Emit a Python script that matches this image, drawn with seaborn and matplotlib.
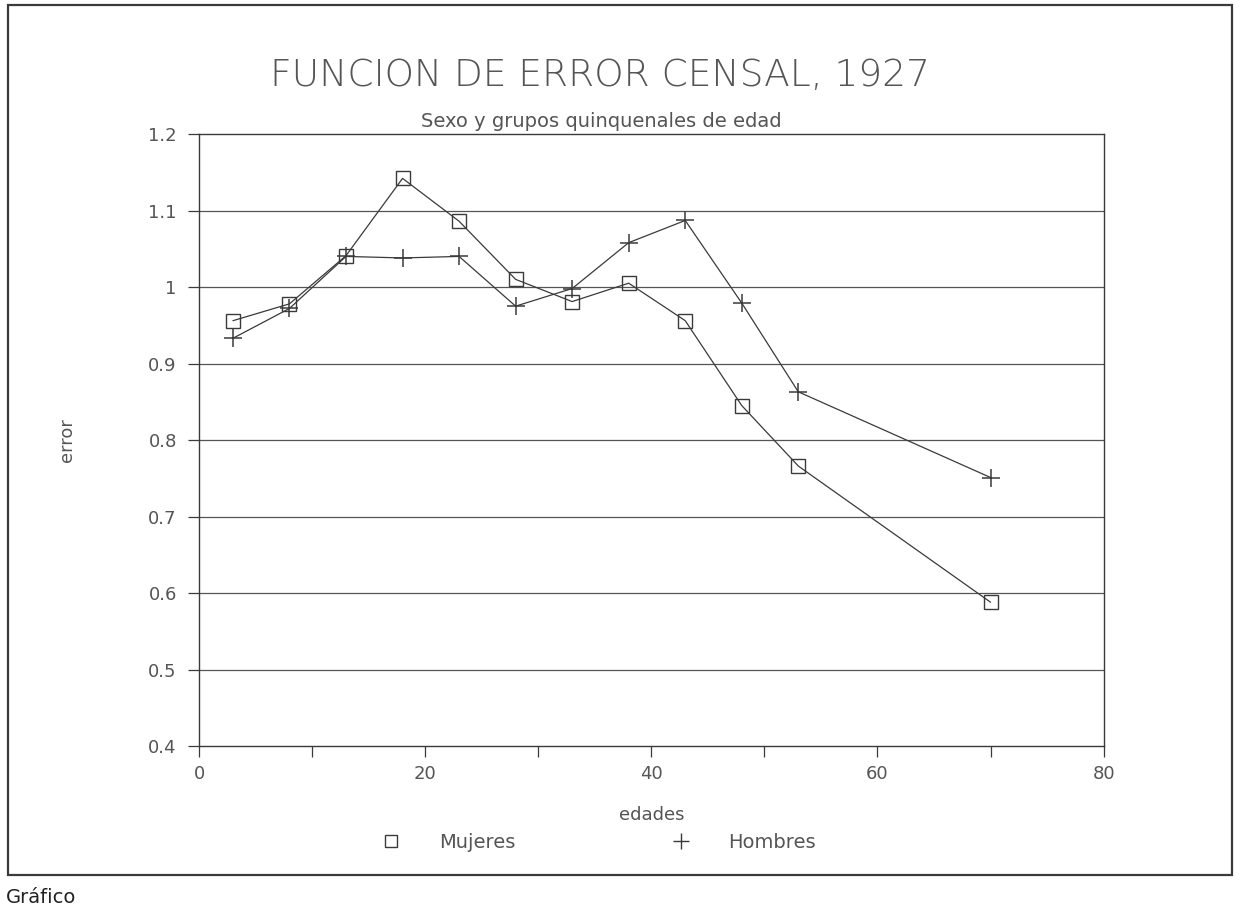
import numpy as np
import pandas as pd
import matplotlib
matplotlib.use("Agg")
import matplotlib.pyplot as plt
from matplotlib.lines import Line2D
from matplotlib.patches import Rectangle
import seaborn as sns

# edades (centro de cada grupo quinquenal) y error censal por sexo
edades = [3, 8, 13, 18, 23, 28, 33, 38, 43, 48, 53, 70]
mujeres = [0.956, 0.978, 1.041, 1.142, 1.086, 1.010, 0.981, 1.005, 0.956, 0.845, 0.766, 0.588]
hombres = [0.933, 0.972, 1.040, 1.038, 1.040, 0.975, 0.998, 1.058, 1.087, 0.979, 0.863, 0.751]

x_ticks = [0, 10, 20, 30, 40, 50, 60, 70, 80]
x_labels = ["0", "", "20", "", "40", "", "60", "", "80"]
y_ticks = [0.4, 0.5, 0.6, 0.7, 0.8, 0.9, 1.0, 1.1, 1.2]
y_labels = ["0.4", "0.5", "0.6", "0.7", "0.8", "0.9", "1", "1.1", "1.2"]

sns.set_style("white")
plt.rcParams["font.family"] = ["DejaVu Sans"]

ink = "#3a3a3a"
text_col = "#555555"

fig = plt.figure(figsize=(12.4, 9.08), dpi=100)
ax = fig.add_axes([0.1605, 0.1784, 0.7295, 0.674])

# horizontal grid first so lines sit on top
for v in y_ticks[1:-1]:
    ax.axhline(v, color="#555555", lw=0.9, zorder=1)

df = pd.DataFrame({"edad": edades, "Mujeres": mujeres, "Hombres": hombres})
sns.lineplot(data=df, x="edad", y="Mujeres", ax=ax, color=ink, lw=0.9,
             marker="s", markersize=10, markerfacecolor="none",
             markeredgecolor=ink, markeredgewidth=1.0, legend=False, zorder=3)
sns.lineplot(data=df, x="edad", y="Hombres", ax=ax, color=ink, lw=0.9,
             marker="+", markersize=13, markeredgewidth=1.1,
             markeredgecolor=ink, legend=False, zorder=3)

ax.set_xlim(0, 80)
ax.set_ylim(0.4, 1.2)
ax.set_xticks(x_ticks)
ax.set_xticklabels(x_labels)
ax.set_yticks(y_ticks)
ax.set_yticklabels(y_labels)
ax.tick_params(axis="both", direction="out", length=8, width=0.9, color=ink,
               labelsize=13, labelcolor=text_col, bottom=True, left=True)
ax.tick_params(axis="x", pad=6)
ax.tick_params(axis="y", pad=8)
for s in ax.spines.values():
    s.set_color(ink)
    s.set_linewidth(1.0)

ax.set_xlabel("edades", fontsize=13, color=text_col, labelpad=16)
ax.set_ylabel("error", fontsize=13, color=text_col, labelpad=52)

fig.text(0.484, 0.917, "FUNCION DE ERROR CENSAL, 1927", ha="center", va="center",
         fontsize=27, color=text_col, fontweight="light")
fig.text(0.485, 0.866, "Sexo y grupos quinquenales de edad", ha="center",
         va="center", fontsize=14, color=text_col)

handles = [
    Line2D([], [], ls="none", marker="s", markersize=9, markerfacecolor="none",
           markeredgecolor=ink, markeredgewidth=1.0, label="Mujeres"),
    Line2D([], [], ls="none", marker="+", markersize=11, markeredgewidth=1.0,
           markeredgecolor=ink, label="Hombres"),
]
leg = fig.legend(handles=handles, loc="center", bbox_to_anchor=(0.479, 0.072),
                 ncol=2, frameon=False, fontsize=14, handletextpad=1.45,
                 columnspacing=7.5)
for t in leg.get_texts():
    t.set_color(text_col)

# marco del grafico
fig.patches.append(Rectangle((0.0065, 0.036), 0.987, 0.958, transform=fig.transFigure,
                             fill=False, edgecolor=ink, lw=1.6))
fig.text(0.005, 0.001, "Gráfico", ha="left", va="bottom", fontsize=14, color="#222222")

fig.savefig("out.png", dpi=100)
